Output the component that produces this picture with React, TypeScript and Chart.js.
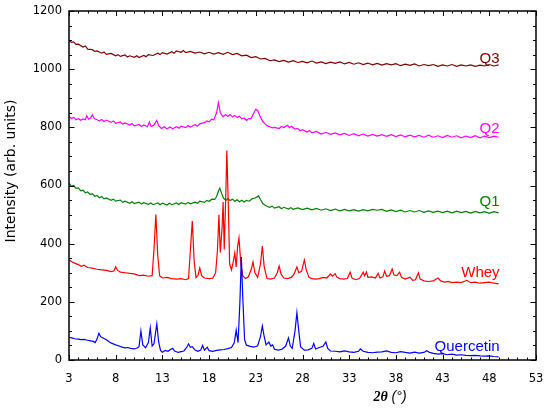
import { useEffect, useRef } from 'react';
import { Chart, registerables } from 'chart.js';

Chart.register(...registerables);

// [2theta, intensity] pairs
const quercetin: [number, number][] = [
  [3, 78], [3.3, 76], [3.6, 73], [4, 72], [4.3, 70], [4.6, 71], [5, 68], [5.3, 66], [5.6, 64], [5.8, 60],
  [6.0, 72], [6.2, 92], [6.4, 80], [6.7, 75], [7.0, 70], [7.3, 63], [7.6, 57], [8.0, 52], [8.3, 49], [8.6, 45],
  [9, 42], [9.3, 43], [9.6, 40], [10, 38], [10.3, 41], [10.5, 46], [10.7, 100], [10.9, 52], [11.2, 42], [11.5, 60],
  [11.7, 110], [11.9, 48], [12.1, 56], [12.4, 124], [12.6, 62], [12.8, 33], [13.0, 27], [13.3, 33], [13.6, 30], [13.9, 37],
  [14.1, 40], [14.3, 31], [14.7, 26], [15.0, 29], [15.3, 31], [15.6, 43], [15.8, 55], [16.0, 44], [16.2, 46], [16.5, 34],
  [16.8, 30], [17.1, 34], [17.3, 50], [17.5, 34], [17.8, 44], [18.0, 32], [18.4, 30], [18.8, 33], [19.2, 35], [19.6, 36],
  [20.0, 39], [20.4, 43], [20.7, 60], [20.9, 103], [21.1, 60], [21.3, 200], [21.45, 354], [21.6, 220], [21.8, 70], [22.0, 51],
  [22.4, 47], [22.8, 44], [23.2, 49], [23.5, 80], [23.7, 117], [23.9, 80], [24.1, 52], [24.4, 62], [24.6, 48], [24.8, 52],
  [25.0, 37], [25.4, 34], [25.8, 37], [26.2, 48], [26.5, 76], [26.7, 48], [26.9, 40], [27.2, 100], [27.4, 163], [27.6, 100],
  [27.8, 45], [28.2, 34], [28.6, 35], [29.0, 40], [29.2, 57], [29.4, 38], [29.8, 43], [30.2, 47], [30.5, 62], [30.7, 40],
  [31.0, 31], [31.5, 30], [32, 28], [32.5, 31], [33, 28], [33.5, 26], [34.0, 30], [34.2, 38], [34.5, 30], [35, 26],
  [35.5, 25], [36, 27], [36.5, 28], [37, 31], [37.5, 26], [38, 25], [38.5, 29], [39, 26], [39.5, 24], [40, 27],
  [40.5, 24], [41, 26], [41.3, 32], [41.6, 26], [42, 23], [42.5, 20], [43, 22], [43.5, 18], [44, 20], [44.5, 17],
  [45, 18], [45.5, 16], [46, 15], [46.5, 16], [47, 14], [47.5, 13], [48, 14], [48.5, 12], [49, 11],
];

const whey: [number, number][] = [
  [3, 345], [3.3, 338], [3.6, 333], [4, 328], [4.3, 322], [4.6, 326], [5, 318], [5.5, 316], [6, 312], [6.5, 310],
  [7, 308], [7.5, 304], [7.8, 306], [8.0, 320], [8.2, 308], [8.5, 302], [9, 300], [9.5, 298], [10, 296], [10.5, 290],
  [11, 292], [11.5, 288], [11.9, 290], [12.1, 380], [12.3, 500], [12.5, 360], [12.7, 290], [13, 282], [13.5, 284], [14, 280],
  [14.5, 278], [15, 280], [15.5, 276], [15.8, 280], [16.0, 380], [16.2, 478], [16.4, 340], [16.6, 284], [16.8, 290], [17.0, 316],
  [17.2, 290], [17.5, 282], [18, 280], [18.4, 282], [18.7, 300], [18.9, 380], [19.05, 499], [19.2, 370], [19.4, 460], [19.5, 543],
  [19.62, 380], [19.78, 560], [19.9, 720], [20.05, 540], [20.2, 330], [20.4, 310], [20.6, 340], [20.75, 368], [20.9, 320], [21.05, 390],
  [21.2, 420], [21.4, 330], [21.6, 290], [21.9, 280], [22.2, 286], [22.5, 310], [22.7, 337], [22.9, 300], [23.2, 284], [23.5, 330],
  [23.7, 392], [23.9, 320], [24.2, 280], [24.6, 278], [25.0, 282], [25.3, 300], [25.5, 323], [25.7, 296], [26.0, 282], [26.4, 280],
  [26.8, 284], [27.1, 296], [27.4, 320], [27.6, 300], [27.9, 305], [28.2, 344], [28.4, 310], [28.7, 284], [29, 280], [29.4, 278],
  [29.8, 280], [30.2, 284], [30.6, 282], [31.0, 296], [31.2, 288], [31.5, 297], [31.7, 284], [32.0, 280], [32.4, 278], [32.8, 280],
  [33.1, 302], [33.3, 282], [33.7, 276], [34.1, 280], [34.5, 302], [34.65, 290], [34.85, 303], [35.0, 284], [35.4, 286], [35.8, 282],
  [36.1, 298], [36.3, 282], [36.6, 286], [36.8, 306], [37.0, 288], [37.3, 290], [37.6, 313], [37.8, 292], [38.1, 290], [38.4, 302],
  [38.6, 284], [39.0, 278], [39.5, 285], [39.8, 274], [40.1, 276], [40.4, 300], [40.6, 278], [41, 272], [41.5, 270], [42, 272],
  [42.5, 282], [42.8, 272], [43.2, 268], [43.6, 270], [44, 266], [44.5, 268], [45, 266], [45.6, 274], [46, 266], [46.5, 268],
  [47, 264], [47.5, 266], [48, 268], [48.5, 264], [49, 262],
];

const q1: [number, number][] = [
  [3, 608], [3.25, 598], [3.5, 600], [3.75, 590], [4, 592], [4.25, 582], [4.5, 584], [4.75, 575], [5, 578], [5.25, 569],
  [5.5, 572], [5.75, 563], [6, 566], [6.25, 558], [6.5, 562], [6.75, 554], [7, 557], [7.5, 549], [7.75, 553], [8, 546],
  [8.5, 550], [8.75, 542], [9, 546], [9.5, 539], [9.75, 544], [10, 538], [10.5, 543], [10.75, 536], [11, 541], [11.5, 535],
  [11.75, 540], [12, 534], [12.5, 540], [12.75, 534], [13, 539], [13.5, 533], [13.75, 539], [14, 534], [14.5, 540], [14.75, 535],
  [15, 541], [15.5, 536], [15.75, 542], [16, 537], [16.5, 543], [16.75, 539], [17, 546], [17.5, 542], [17.75, 549], [18, 546],
  [18.3, 553], [18.6, 552], [18.8, 562], [19.0, 580], [19.15, 591], [19.35, 572], [19.55, 556], [19.8, 549], [20, 555], [20.25, 548],
  [20.5, 553], [20.75, 546], [21, 551], [21.25, 544], [21.5, 549], [21.75, 543], [22, 549], [22.3, 546], [22.6, 554], [22.9, 557],
  [23.1, 560], [23.3, 564], [23.5, 552], [23.75, 538], [24, 532], [24.25, 528], [24.5, 525], [24.75, 529], [25, 522], [25.5, 527],
  [25.75, 520], [26, 525], [26.5, 519], [26.75, 524], [27, 518], [27.5, 523], [28, 517], [28.5, 522], [29, 516], [29.5, 521],
  [30, 515], [30.5, 520], [31, 514], [31.5, 519], [32, 513], [32.5, 518], [33, 513], [33.5, 517], [34, 512], [34.5, 517],
  [35, 513], [35.5, 518], [36, 515], [36.5, 518], [37, 511], [37.5, 516], [38, 510], [38.5, 515], [39, 509], [39.5, 514],
  [40, 509], [40.5, 514], [41, 508], [41.5, 513], [42, 508], [42.5, 512], [43, 507], [43.5, 512], [44, 506], [44.5, 512],
  [45, 507], [45.5, 511], [46, 505], [46.5, 511], [47, 506], [47.5, 510], [48, 504], [48.5, 510], [49, 506],
];

const q2: [number, number][] = [
  [3, 838], [3.25, 830], [3.5, 834], [3.75, 826], [4, 830], [4.25, 824], [4.5, 829], [4.75, 826], [4.9, 840], [5.1, 828],
  [5.3, 832], [5.5, 843], [5.7, 830], [6, 826], [6.25, 822], [6.5, 827], [6.75, 820], [7, 825], [7.5, 817], [7.75, 822],
  [8, 814], [8.5, 819], [8.75, 811], [9, 815], [9.5, 808], [9.75, 813], [10, 805], [10.5, 810], [10.75, 803], [11, 808],
  [11.4, 802], [11.6, 818], [11.8, 803], [12.1, 808], [12.4, 824], [12.6, 806], [12.9, 796], [13.2, 802], [13.5, 794], [13.8, 801],
  [14.1, 795], [14.5, 802], [14.8, 797], [15, 804], [15.5, 799], [15.75, 806], [16, 801], [16.5, 809], [16.75, 804], [17, 812],
  [17.5, 816], [17.75, 822], [18, 819], [18.25, 828], [18.5, 826], [18.8, 850], [19.0, 885], [19.2, 850], [19.5, 836], [19.75, 844],
  [20, 837], [20.25, 844], [20.5, 836], [20.75, 841], [21, 834], [21.25, 838], [21.5, 829], [21.75, 832], [22, 824], [22.25, 830],
  [22.5, 830], [22.8, 850], [23.0, 862], [23.2, 858], [23.5, 835], [23.75, 820], [24, 812], [24.25, 805], [24.5, 802], [24.75, 798],
  [25, 800], [25.5, 796], [25.75, 803], [26, 799], [26.4, 807], [26.6, 799], [26.8, 804], [27.2, 794], [27.5, 796], [27.75, 788],
  [28, 792], [28.5, 784], [28.75, 789], [29, 781], [29.5, 786], [30, 777], [30.5, 783], [31, 776], [31.5, 781], [32, 774],
  [32.5, 779], [33, 772], [33.5, 778], [34, 771], [34.5, 777], [35, 770], [35.5, 776], [36, 770], [36.5, 775], [37, 769],
  [37.5, 775], [38, 768], [38.5, 774], [39, 767], [39.5, 773], [40, 767], [40.5, 772], [41, 766], [41.5, 773], [42, 766],
  [42.5, 771], [43, 765], [43.5, 772], [44, 766], [44.5, 771], [45, 764], [45.5, 770], [46, 765], [46.5, 771], [47, 764],
  [47.5, 770], [48, 765], [48.5, 770], [49, 766],
];

const q3: [number, number][] = [
  [3, 1100], [3.25, 1092], [3.5, 1094], [3.75, 1085], [4, 1086], [4.5, 1076], [4.75, 1080], [5, 1069], [5.5, 1067], [5.75, 1061],
  [6, 1063], [6.5, 1055], [6.75, 1059], [7, 1051], [7.5, 1054], [8, 1046], [8.25, 1050], [8.5, 1044], [9, 1049], [9.25, 1042],
  [9.5, 1046], [10, 1041], [10.25, 1046], [10.5, 1040], [11, 1047], [11.25, 1043], [11.5, 1050], [12, 1047], [12.5, 1055], [12.75, 1050],
  [13, 1057], [13.5, 1052], [14, 1060], [14.25, 1055], [14.5, 1063], [15, 1058], [15.25, 1064], [15.5, 1057], [16, 1061], [16.5, 1055],
  [17, 1059], [17.5, 1053], [18, 1058], [18.5, 1052], [19, 1057], [19.5, 1051], [20, 1058], [20.5, 1050], [21, 1054], [21.5, 1046],
  [22, 1048], [22.5, 1040], [23, 1043], [23.5, 1035], [24, 1037], [24.5, 1029], [25, 1032], [25.5, 1026], [26, 1030], [26.5, 1024],
  [27, 1029], [27.5, 1023], [28, 1027], [28.5, 1022], [29, 1028], [29.5, 1021], [30, 1025], [30.5, 1019], [31, 1024], [31.5, 1020],
  [32, 1025], [32.5, 1018], [33, 1023], [33.5, 1017], [34, 1022], [34.5, 1016], [35, 1021], [35.5, 1015], [36, 1020], [36.5, 1014],
  [37, 1019], [37.5, 1015], [38, 1019], [38.5, 1012], [39, 1017], [39.5, 1013], [40, 1018], [40.5, 1011], [41, 1016], [41.5, 1012],
  [42, 1016], [42.5, 1010], [43, 1015], [43.5, 1011], [44, 1016], [44.5, 1010], [45, 1015], [45.5, 1011], [46, 1015], [46.5, 1010],
  [47, 1014], [47.5, 1011], [48, 1016], [48.5, 1011], [49, 1015],
];

const xTickValues = [3, 8, 13, 18, 23, 28, 33, 38, 43, 48, 53];
const yTickValues = [0, 200, 400, 600, 800, 1000, 1200];

const series = [
  { name: 'Quercetin', points: quercetin, color: '#0000ff', labelY: 31 },
  { name: 'Whey', points: whey, color: '#ff0000', labelY: 285 },
  { name: 'Q1', points: q1, color: '#008000', labelY: 530 },
  { name: 'Q2', points: q2, color: '#ff00ff', labelY: 781 },
  { name: 'Q3', points: q3, color: '#800000', labelY: 1021 },
];

// frame with inward ticks on all four sides, series names and axis titles
const frameTicks = {
  id: 'frameTicks',
  afterDatasetsDraw(chart: any) {
    const { ctx, chartArea: a, scales } = chart;
    const xs = scales.x;
    const ys = scales.y;
    ctx.save();
    ctx.strokeStyle = '#000';
    ctx.lineWidth = 1;
    ctx.beginPath();
    for (let v = 3; v <= 53; v += 1) {
      const px = Math.round(xs.getPixelForValue(v)) + 0.5;
      const len = (v - 3) % 5 === 0 ? 5 : 2.5;
      ctx.moveTo(px, a.bottom);
      ctx.lineTo(px, a.bottom - len);
      ctx.moveTo(px, a.top);
      ctx.lineTo(px, a.top + len);
    }
    for (let v = 0; v <= 1200; v += 50) {
      const py = Math.round(ys.getPixelForValue(v)) + 0.5;
      const len = v % 200 === 0 ? 5.5 : 3;
      ctx.moveTo(a.left, py);
      ctx.lineTo(a.left + len, py);
      ctx.moveTo(a.right, py);
      ctx.lineTo(a.right - len, py);
    }
    ctx.stroke();
    ctx.lineWidth = 1.5;
    ctx.strokeRect(a.left, a.top, a.right - a.left, a.bottom - a.top);

    ctx.font = '15px "Liberation Sans", Arial, sans-serif';
    ctx.textAlign = 'right';
    ctx.textBaseline = 'alphabetic';
    series.forEach((s) => {
      ctx.fillStyle = s.color;
      ctx.fillText(s.name, xs.getPixelForValue(49.1), ys.getPixelForValue(s.labelY));
    });

    ctx.fillStyle = '#000';
    ctx.textBaseline = 'middle';
    ctx.textAlign = 'left';
    ctx.font = 'italic bold 14px "Liberation Serif", serif';
    const bold = '2θ';
    const wBold = ctx.measureText(bold).width;
    ctx.font = 'italic 14px "Liberation Sans", Arial, sans-serif';
    const rest = ' (°)';
    const wRest = ctx.measureText(rest).width;
    const startX = 390 - (wBold + wRest) / 2;
    ctx.font = 'italic bold 14px "Liberation Serif", serif';
    ctx.fillText(bold, startX, 397);
    ctx.font = 'italic 14px "Liberation Sans", Arial, sans-serif';
    ctx.fillText(rest, startX + wBold, 397);

    ctx.translate(11, 171);
    ctx.rotate(-Math.PI / 2);
    ctx.textAlign = 'center';
    ctx.font = '14px "DejaVu Sans", sans-serif';
    ctx.fillText('Intensity (arb. units)', 0, 0);
    ctx.restore();
  },
};

const XrdChart = () => {
  const canvasRef = useRef<HTMLCanvasElement>(null);
  const chartRef = useRef<Chart | null>(null);

  useEffect(() => {
    if (!canvasRef.current) return;
    if (chartRef.current) chartRef.current.destroy();

    const tickFont = { family: '"DejaVu Sans", sans-serif', size: 11.5 };

    chartRef.current = new Chart(canvasRef.current, {
      type: 'line',
      data: {
        datasets: series.map((s) => ({
          label: s.name,
          data: s.points.map(([x, y]) => ({ x, y })),
          borderColor: s.color,
          borderWidth: 1.2,
          pointRadius: 0,
          tension: 0,
          fill: false,
        })),
      },
      options: {
        responsive: true,
        maintainAspectRatio: false,
        animation: false,
        layout: { padding: { left: 0, top: 11, right: 14, bottom: 0 } },
        plugins: {
          legend: { display: false },
          tooltip: { enabled: false },
        },
        scales: {
          x: {
            type: 'linear',
            min: 3,
            max: 53,
            grid: { display: false, drawTicks: false },
            border: { display: false },
            ticks: { color: '#000', font: tickFont, padding: 12, maxRotation: 0 },
            afterBuildTicks: (scale: any) => {
              scale.ticks = xTickValues.map((v) => ({ value: v }));
            },
            afterFit: (scale: any) => {
              scale.height = 51;
              scale.paddingLeft = 0;
              scale.paddingRight = 0;
            },
          },
          y: {
            min: 0,
            max: 1200,
            grid: { display: false, drawTicks: false },
            border: { display: false },
            ticks: { color: '#000', font: tickFont, padding: 7, callback: (v: any) => String(v) },
            afterBuildTicks: (scale: any) => {
              scale.ticks = yTickValues.map((v) => ({ value: v }));
            },
            afterFit: (scale: any) => {
              scale.width = 69;
              scale.paddingTop = 0;
              scale.paddingBottom = 0;
            },
          },
        },
      },
      plugins: [frameTicks],
    });

    return () => {
      if (chartRef.current) {
        chartRef.current.destroy();
        chartRef.current = null;
      }
    };
  }, []);

  return (
    <div style={{ position: 'absolute', left: 0, top: 0, width: 550, height: 411, background: '#fff' }}>
      <canvas ref={canvasRef} />
    </div>
  );
};

export default function App() {
  return <XrdChart />;
}
